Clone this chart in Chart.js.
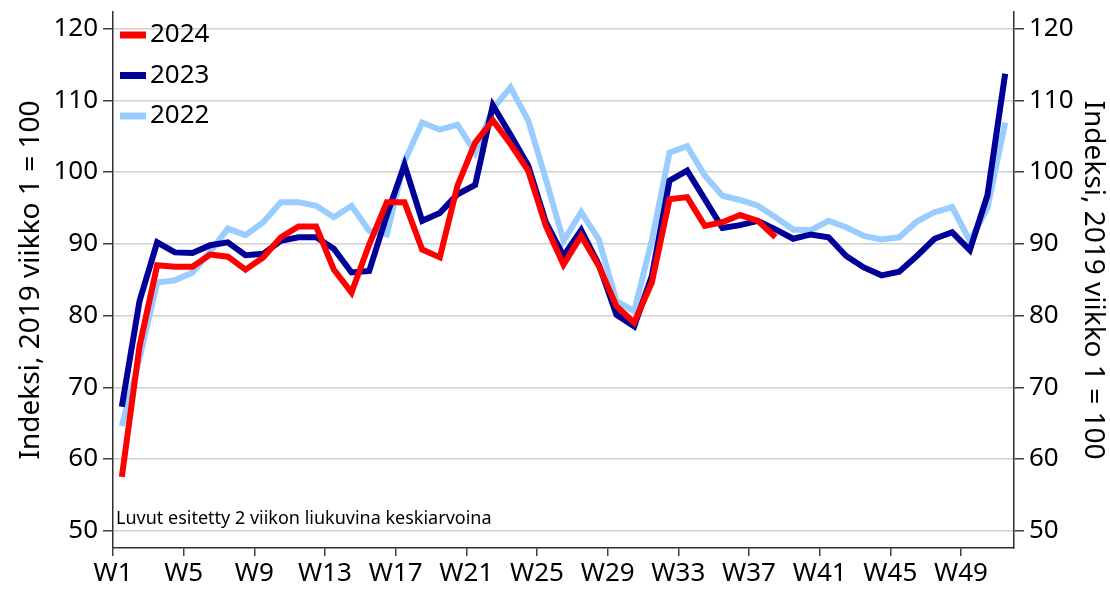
<!DOCTYPE html>
<html>
<head>
<meta charset="utf-8">
<script src="https://cdn.jsdelivr.net/npm/chart.js@4.4.1/dist/chart.umd.min.js"></script>
<style>
    html, body { margin: 0; padding: 0; background: #ffffff; }
    #wrap { width: 1110px; height: 590px; }
</style>
</head>
<body>
<div id="wrap"><canvas id="week-chart" width="1110" height="590"></canvas></div>
<script>
// Weekly index, 2 week moving average (2019 week 1 = 100)
const weeks = [1, 2, 3, 4, 5, 6, 7, 8, 9, 10, 11, 12, 13, 14, 15, 16, 17, 18, 19, 20,
    21, 22, 23, 24, 25, 26, 27, 28, 29, 30, 31, 32, 33, 34, 35, 36, 37, 38, 39, 40,
    41, 42, 43, 44, 45, 46, 47, 48, 49, 50, 51];

const values2024 = [57.5, 75.7, 87.0, 86.8, 86.8, 88.5, 88.2, 86.4, 88.1, 90.9,
    92.4, 92.4, 86.4, 83.2, 89.9, 95.8, 95.8, 89.2, 88.1, 98.1,
    104.1, 107.2, 103.9, 100.2, 92.5, 87.1, 91.1, 86.9, 81.3, 79.0,
    84.6, 96.2, 96.5, 92.5, 93.0, 94.0, 93.2, 90.9];

const values2023 = [67.3, 82.0, 90.2, 88.8, 88.7, 89.8, 90.2, 88.4, 88.6, 90.4,
    90.9, 90.9, 89.3, 86.0, 86.2, 94.0, 101.0, 93.2, 94.3, 96.9,
    98.2, 109.3, 105.2, 100.9, 93.0, 88.3, 91.9, 87.1, 80.1, 78.5,
    85.5, 98.8, 100.2, 96.2, 92.2, 92.6, 93.2, 92.0, 90.7, 91.3,
    90.9, 88.3, 86.7, 85.6, 86.1, 88.3, 90.7, 91.6, 89.1, 96.8, 113.7];

const values2022 = [64.6, 74.0, 84.6, 84.9, 86.0, 88.9, 92.1, 91.2, 93.0, 95.8,
    95.8, 95.3, 93.7, 95.3, 91.8, 91.3, 101.5, 106.9, 105.9, 106.6,
    102.7, 108.8, 111.8, 107.2, 99.0, 90.4, 94.4, 90.6, 82.0, 80.6,
    90.5, 102.7, 103.6, 99.5, 96.7, 96.1, 95.3, 93.7, 92.0, 91.9,
    93.2, 92.3, 91.1, 90.6, 90.9, 93.1, 94.4, 95.1, 90.4, 95.0, 106.9];

const xTickWeeks = [1, 5, 9, 13, 17, 21, 25, 29, 33, 37, 41, 45, 49];
const yTickValues = [50, 60, 70, 80, 90, 100, 110, 120];

const axisTitle = 'Indeksi, 2019 viikko 1 = 100';
const noteText = 'Luvut esitetty 2 viikon liukuvina keskiarvoina';
const fontFamily = '"Noto Sans", "Open Sans", sans-serif';

// points sit in the middle of each week, labels mark the week start
function toPoints(values) {
    return values.map((v, i) => ({ x: weeks[i] + 0.5, y: v }));
}

const insideLegend = {
    id: 'insideLegend',
    afterDraw(chart) {
        const { ctx, chartArea } = chart;
        ctx.save();
        ctx.font = '26px ' + fontFamily;
        ctx.textBaseline = 'middle';
        chart.data.datasets.forEach((ds, i) => {
            const y = chartArea.top + 23 + i * 40.5;
            ctx.strokeStyle = ds.borderColor;
            ctx.lineWidth = 7;
            ctx.beginPath();
            ctx.moveTo(chartArea.left + 7, y);
            ctx.lineTo(chartArea.left + 33, y);
            ctx.stroke();
            ctx.fillStyle = '#000000';
            ctx.fillText(ds.label, chartArea.left + 37, y);
        });
        ctx.font = '18px ' + fontFamily;
        ctx.fillStyle = '#000000';
        ctx.fillText(noteText, chartArea.left + 3, chartArea.bottom - 29);
        ctx.restore();
    }
};

function yAxis(position, width, titlePadding) {
    return {
        type: 'linear',
        position: position,
        min: 47.6,
        max: 122.3,
        afterBuildTicks: axis => {
            axis.ticks = yTickValues.map(v => ({ value: v }));
        },
        afterFit: axis => {
            axis.width = width;
            axis.paddingTop = 0;
            axis.paddingBottom = 0;
        },
        ticks: {
            color: '#000000',
            padding: 5,
            font: { family: fontFamily, size: 26 }
        },
        grid: {
            color: '#d0d0d0',
            lineWidth: 1.5,
            tickColor: '#404040',
            tickLength: 10,
            drawOnChartArea: position === 'left'
        },
        border: { color: '#303030', width: 1.5 },
        title: {
            display: true,
            text: axisTitle,
            color: '#000000',
            padding: { top: titlePadding, bottom: 0 },
            font: { family: fontFamily, size: 28, lineHeight: 1 }
        }
    };
}

const config = {
    type: 'line',
    data: {
        datasets: [{
            label: '2024',
            data: toPoints(values2024),
            borderColor: '#ff0000'
        }, {
            label: '2023',
            data: toPoints(values2023),
            borderColor: '#000099'
        }, {
            label: '2022',
            data: toPoints(values2022),
            borderColor: '#99ccff'
        }]
    },
    options: {
        responsive: false,
        animation: false,
        layout: { padding: { top: 12, left: 0, right: 0, bottom: 0 } },
        elements: {
            point: { radius: 0 },
            line: { borderWidth: 6, tension: 0, fill: false }
        },
        scales: {
            x: {
                type: 'linear',
                min: 1,
                max: 52,
                afterBuildTicks: axis => {
                    axis.ticks = xTickWeeks.map(v => ({ value: v }));
                },
                afterFit: axis => {
                    axis.height = 42;
                },
                ticks: {
                    color: '#000000',
                    autoSkip: false,
                    maxRotation: 0,
                    padding: 2,
                    font: { family: fontFamily, size: 26 },
                    callback: value => 'W' + value
                },
                grid: {
                    drawOnChartArea: false,
                    tickColor: '#404040',
                    tickLength: 8,
                    lineWidth: 1.5
                },
                border: { color: '#303030', width: 1.5 }
            },
            y: yAxis('left', 113, 17),
            y2: yAxis('right', 96, 3)
        },
        plugins: {
            legend: { display: false },
            tooltip: { enabled: false }
        }
    },
    plugins: [insideLegend]
};

const ctx = document.getElementById('week-chart').getContext('2d');
const weekChart = new Chart(ctx, config);
</script>
</body>
</html>
